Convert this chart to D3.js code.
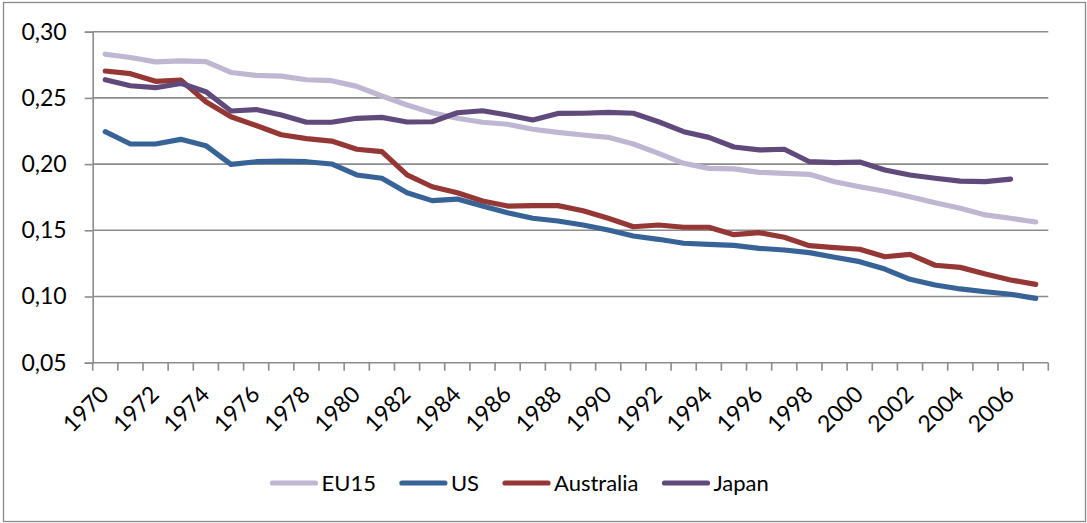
<!DOCTYPE html>
<html>
<head>
<meta charset="utf-8">
<script src="https://cdn.jsdelivr.net/npm/d3@7"></script>
<style>
  html, body { margin: 0; padding: 0; background: #fff; }
  svg { display: block; font-family: Lato, "Open Sans", sans-serif; }
</style>
</head>
<body>
<svg id="chart" width="1087" height="523"></svg>
<script>
const years = [1970,1971,1972,1973,1974,1975,1976,1977,1978,1979,1980,1981,1982,1983,1984,1985,1986,1987,1988,1989,1990,1991,1992,1993,1994,1995,1996,1997,1998,1999,2000,2001,2002,2003,2004,2005,2006,2007];
const xTickLabels = ["1970","1972","1974","1976","1978","1980","1982","1984","1986","1988","1990","1992","1994","1996","1998","2000","2002","2004","2006"];
const yTickValues = [0.05, 0.10, 0.15, 0.20, 0.25, 0.30];
const yTickLabels = ["0,05","0,10","0,15","0,20","0,25","0,30"];

const eu15 = [0.2830,0.2805,0.2772,0.2780,0.2774,0.2692,0.2670,0.2665,0.2637,0.2630,0.2587,0.2514,0.2446,0.2388,0.2346,0.2316,0.2301,0.2263,0.2240,0.2220,0.2202,0.2152,0.2081,0.2006,0.1968,0.1964,0.1938,0.1930,0.1923,0.1867,0.1829,0.1795,0.1754,0.1708,0.1666,0.1616,0.1591,0.1563];
const us = [0.2245,0.2152,0.2152,0.2187,0.2139,0.1998,0.2018,0.2022,0.2018,0.2001,0.1918,0.1893,0.1784,0.1724,0.1736,0.1683,0.1633,0.1591,0.1570,0.1540,0.1502,0.1457,0.1432,0.1402,0.1394,0.1386,0.1364,0.1351,0.1331,0.1296,0.1263,0.1207,0.1130,0.1087,0.1057,0.1036,0.1017,0.0986];
const australia = [0.2703,0.2683,0.2625,0.2635,0.2471,0.2358,0.2292,0.2222,0.2192,0.2174,0.2112,0.2094,0.1918,0.1829,0.1784,0.1721,0.1683,0.1686,0.1686,0.1648,0.1591,0.1527,0.1540,0.1523,0.1523,0.1467,0.1482,0.1447,0.1384,0.1369,0.1357,0.1300,0.1318,0.1236,0.1220,0.1170,0.1125,0.1092];
const japan = [0.2637,0.2592,0.2577,0.2610,0.2547,0.2401,0.2412,0.2371,0.2316,0.2316,0.2346,0.2353,0.2318,0.2320,0.2388,0.2403,0.2371,0.2333,0.2383,0.2384,0.2391,0.2384,0.2320,0.2245,0.2202,0.2129,0.2107,0.2112,0.2018,0.2011,0.2016,0.1955,0.1918,0.1893,0.1872,0.1867,0.1887,null];

const seriesNames = ["EU15","US","Australia","Japan"];
const seriesColors = ["#BFB6D1","#376396","#953735","#604A7B"];
const seriesData = [eu15, us, australia, japan];

const svg = d3.select("#chart");
const mLeft = 92.7, mRight = 1048.3, mTop = 31.7, mBottom = 362.7;

// outer border
svg.append("rect").attr("x", 3.5).attr("y", 2.5).attr("width", 1082).attr("height", 519)
  .attr("fill", "none").attr("stroke", "#8a8a8a").attr("stroke-width", 1.3);

const x = d3.scaleBand().domain(years).range([mLeft, mRight]).padding(0);
const y = d3.scaleLinear().domain([0.05, 0.30]).range([mBottom, mTop]);
const cx = yr => x(yr) + x.bandwidth() / 2;

// gridlines
svg.append("g").selectAll("line").data(yTickValues.slice(1)).join("line")
  .attr("x1", mLeft).attr("x2", mRight)
  .attr("y1", d => y(d)).attr("y2", d => y(d))
  .attr("stroke", "#8c8c8c").attr("stroke-width", 1.6);

// y axis
const yAxis = d3.axisLeft(y).tickValues(yTickValues).tickSize(8).tickPadding(18)
  .tickFormat((d, i) => yTickLabels[i]);
const gy = svg.append("g").attr("transform", `translate(${mLeft},0)`).call(yAxis);
gy.select(".domain").attr("stroke", "#8c8c8c").attr("stroke-width", 1.6);
gy.selectAll(".tick line").attr("stroke", "#8c8c8c").attr("stroke-width", 1.6);
gy.selectAll(".tick text").attr("font-family", "Lato, sans-serif").attr("font-size", 23).attr("fill", "#000");

// x axis: tick marks at category boundaries
const boundaries = years.map(yr => x(yr)).concat([mRight]);
const gx = svg.append("g");
gx.append("line").attr("x1", mLeft).attr("x2", mRight).attr("y1", mBottom).attr("y2", mBottom)
  .attr("stroke", "#8c8c8c").attr("stroke-width", 1.6);
gx.selectAll("line.t").data(boundaries).join("line").attr("class", "t")
  .attr("x1", d => d).attr("x2", d => d).attr("y1", mBottom).attr("y2", mBottom + 8)
  .attr("stroke", "#8c8c8c").attr("stroke-width", 1.6);
gx.selectAll("text").data(xTickLabels).join("text")
  .attr("transform", d => `translate(${cx(+d) + 5},${mBottom + 33}) rotate(-45)`)
  .attr("text-anchor", "end")
  .attr("font-size", 23).attr("fill", "#000")
  .text(d => d);

// lines
const line = d3.line().defined(d => d[1] != null).x(d => cx(d[0])).y(d => y(d[1]));
seriesData.forEach((arr, i) => {
  svg.append("path").datum(years.map((yr, j) => [yr, arr[j]]))
    .attr("d", line).attr("fill", "none").attr("stroke", seriesColors[i])
    .attr("stroke-width", 5.2).attr("stroke-linejoin", "round").attr("stroke-linecap", "round");
});

// legend
const legY = 483;
let lx = 272.5;
seriesNames.forEach((name, i) => {
  svg.append("line").attr("x1", lx).attr("x2", lx + 43).attr("y1", legY).attr("y2", legY)
    .attr("stroke", seriesColors[i]).attr("stroke-width", 5.2).attr("stroke-linecap", "round");
  const t = svg.append("text").attr("x", lx + 49).attr("y", legY).attr("dy", "0.35em")
    .attr("font-size", 22).attr("fill", "#000").text(name);
  lx = lx + 49 + t.node().getComputedTextLength() + 26;
});
</script>
</body>
</html>
